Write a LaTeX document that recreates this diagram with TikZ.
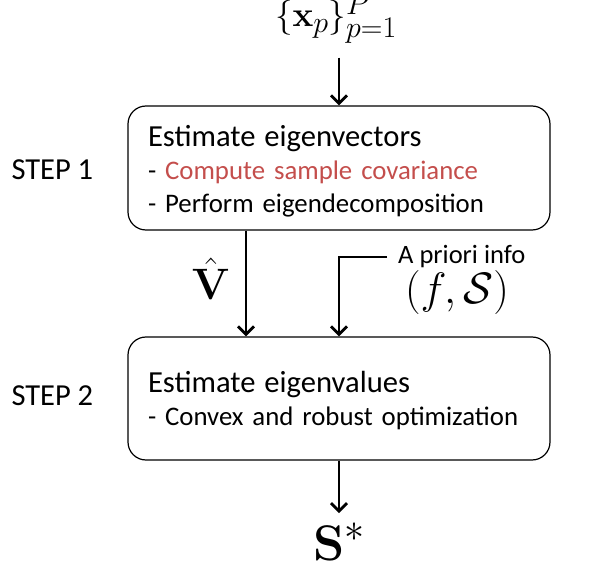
\RequirePackage{fix-cm}
\documentclass[tikz,border=0pt]{standalone}
\usepackage{amsmath}
\usepackage[no-math]{fontspec}
\setmainfont{Carlito}
\usetikzlibrary{arrows.meta}

\DeclareMathSizes{35}{35}{30}{23}
\DeclareMathSizes{50}{50}{40}{30}

\definecolor{samplered}{RGB}{196,78,76}

\tikzset{
  stepbox/.style={draw, line width=1.2pt, rounded corners=18pt,
    minimum width=422pt, minimum height=124pt, inner xsep=20pt,
    text width=382pt, align=left, font=\fontsize{26.8}{33}\selectfont},
  flow/.style={-{Straight Barb[length=8pt,width=16pt]}, line width=2.8pt},
  steplabel/.style={anchor=west, font=\fontsize{30.5}{33}\selectfont},
}

\begin{document}
\begin{tikzpicture}[x=1pt, y=-1pt]
\useasboundingbox (0,0) rectangle (598,567);

%% boxes
\node[stepbox] (est1) at (339,168)
  {\rule{0pt}{28pt}{\fontsize{30.6}{33}\selectfont Estimate eigenvectors}\\
   - \textcolor{samplered}{Compute sample covariance}\\
   - Perform eigendecomposition};
\node[stepbox, minimum height=123pt] (est2) at (339,398.5)
  {\rule{0pt}{26pt}{\fontsize{30.6}{33}\selectfont Estimate eigenvalues}\\
   - Convex and robust optimization};

%% step labels
\node[steplabel] (step1) at (8,170) {STEP 1};
\node[steplabel] (step2) at (8,396) {STEP 2};

%% inputs and output
\node[inner sep=0pt, anchor=base west, font=\fontsize{35}{40}\selectfont] (data) at (275,27) {$\{\mathbf{x}_p\}_{p=1}^P$};
\node[inner sep=0pt, font=\fontsize{44}{48}\selectfont] (vhat) at (211,279) {$\hat{\mathbf{V}}$};
\node[inner xsep=11pt, inner ysep=4pt, anchor=west, font=\fontsize{26.5}{28}\selectfont] (prior) at (387,257) {A priori info};
\node[inner sep=0pt, font=\fontsize{44}{46}\selectfont] (priorset) at (457,293) {$(f,\mathcal{S})$};
\node[inner sep=0pt, anchor=base west, font=\fontsize{50}{54}\selectfont] (result) at (313,560) {$\mathbf{S}^*$};

%% arrows
\draw[flow, shorten <=14pt] (data.south -| est1.north) -- (est1.north);
\draw[flow] ([xshift=-93pt]est1.south) -- ([xshift=-93pt]est2.north);
\draw[flow] (prior.west) -| (est2.north);
\draw[flow, shorten >=10pt] (est2.south) -- (result.north -| est2.south);

\end{tikzpicture}
\end{document}
